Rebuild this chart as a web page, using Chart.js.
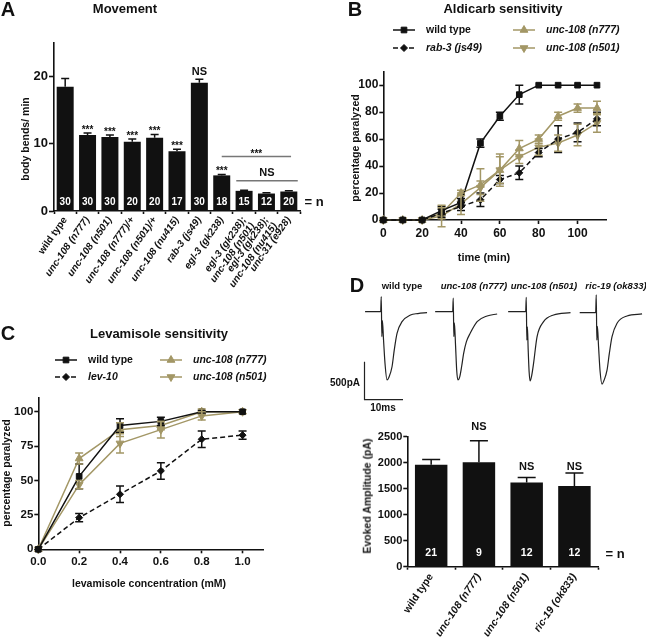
<!DOCTYPE html>
<html>
<head>
<meta charset="utf-8">
<script src="https://cdn.jsdelivr.net/npm/chart.js@4.4.0/dist/chart.umd.min.js"></script>
<style>
  body { margin: 0; width: 646px; height: 639px; position: relative; overflow: hidden; background: #fff;
         font-family: "Liberation Sans", Arial, sans-serif; color: #111; }
  canvas { position: absolute; }
  .c { position: absolute; white-space: nowrap; font-weight: bold; transform: translate(-50%, -50%); line-height: 1; }
  .r { transform: translate(-50%, -50%) rotate(-90deg); }
  .i { font-style: italic; }
</style>
</head>
<body>
<canvas id="cA" width="330" height="290" style="left:0;top:0"></canvas>
<canvas id="cB" width="316" height="290" style="left:330px;top:0"></canvas>
<canvas id="cC" width="330" height="349" style="left:0;top:290px"></canvas>
<canvas id="cD" width="316" height="224" style="left:330px;top:415px"></canvas>
<canvas id="t1" width="77" height="117" style="left:361.8px;top:289px"></canvas>
<canvas id="t2" width="77" height="117" style="left:433.8px;top:289px"></canvas>
<canvas id="t3" width="77" height="117" style="left:506.8px;top:289px"></canvas>
<canvas id="t4" width="77" height="117" style="left:576.8px;top:290px"></canvas>

<div class="c" style="left:8px;top:9px;font-size:20px">A</div>
<div class="c" style="left:125px;top:8px;font-size:13px">Movement</div>
<div class="c r" style="left:25px;top:139px;font-size:10.5px">body bends/ min</div>
<div class="c" style="left:314px;top:201px;font-size:13px">= n</div>

<div class="c" style="left:355px;top:9px;font-size:20px">B</div>
<div class="c" style="left:503px;top:8px;font-size:13px">Aldicarb sensitivity</div>
<div class="c r" style="left:355px;top:148px;font-size:10.5px">percentage paralyzed</div>
<div class="c" style="left:484px;top:257px;font-size:11px">time (min)</div>

<div class="c" style="left:8px;top:333px;font-size:20px">C</div>
<div class="c" style="left:159px;top:333px;font-size:13px">Levamisole sensitivity</div>
<div class="c r" style="left:6px;top:473px;font-size:10.5px">percentage paralyzed</div>
<div class="c" style="left:149px;top:583px;font-size:10.5px">levamisole concentration (mM)</div>

<div class="c" style="left:357px;top:285px;font-size:20px">D</div>
<div class="c" style="left:402px;top:286px;font-size:9.5px">wild type</div>
<div class="c i" style="left:474px;top:286px;font-size:9.5px">unc-108 (n777)</div>
<div class="c i" style="left:544px;top:286px;font-size:9.5px">unc-108 (n501)</div>
<div class="c i" style="left:616px;top:286px;font-size:9.5px">ric-19 (ok833)</div>
<div class="c" style="left:345px;top:383px;font-size:10px">500pA</div>
<div class="c" style="left:383px;top:408px;font-size:10px">10ms</div>
<div class="c r" style="left:367px;top:496px;font-size:10.5px">Evoked Amplitude (pA)</div>
<div class="c" style="left:615px;top:553px;font-size:13px">= n</div>

<script>
// ---- A: movement (body bends / min) ----
const moveLabels = ['wild type', 'unc-108 (n777)', 'unc-108 (n501)', 'unc-108 (n777)/+', 'unc-108 (n501)/+',
  'unc-108 (nu415)', 'rab-3 (js49)', 'egl-3 (gk238)', ['egl-3 (gk238);', 'unc-108 (n501)'],
  ['egl-3 (gk238);', 'unc-108 (nu415)'], 'unc-31 (e928)'];
const moveMeans = [18.5, 11.3, 11.0, 10.3, 10.9, 8.9, 19.1, 5.3, 3.0, 2.6, 2.9];
const moveSem = [1.2, 0.3, 0.3, 0.4, 0.5, 0.3, 0.5, 0.15, 0.1, 0.1, 0.1];
const moveN = [30, 30, 30, 20, 20, 17, 30, 18, 15, 12, 20];
const moveSig = ['', '***', '***', '***', '***', '***', 'NS', '***', '', '', ''];

// ---- B: aldicarb time course (% paralyzed) ----
const aldTime = [0, 10, 20, 30, 40, 50, 60, 70, 80, 90, 100, 110];
const aldWt = [0, 0, 0, 7, 13, 57, 77, 93, 100, 100, 100, 100];
const aldWtErr = [0, 0, 0, 3, 3, 3, 3, 7, 0, 0, 0, 0];
const aldRab3 = [0, 0, 0, 5, 10, 15, 30, 35, 50, 60, 65, 75];
const aldRab3Err = [0, 0, 0, 3, 3, 5, 3, 5, 3, 10, 7, 5];
const ald777 = [0, 0, 0, 5, 20, 26, 37, 53, 60, 77, 83, 83];
const ald777Err = [0, 0, 0, 4, 2, 12, 10, 6, 3, 3, 3, 5];
const ald501 = [0, 0, 0, 3, 12, 24, 37, 47, 54, 57, 63, 72];
const ald501Err = [0, 0, 0, 8, 8, 5, 12, 5, 6, 6, 8, 7];

// ---- C: levamisole dose response (% paralyzed) ----
const levConc = [0, 0.2, 0.4, 0.6, 0.8, 1.0];
const levWt = [0, 53, 90, 93, 100, 100];
const levWtErr = [0, 9, 5, 3, 1, 0];
const levLev10 = [0, 23, 40, 57, 80, 83];
const levLev10Err = [0, 3, 6, 6, 6, 3];
const lev777 = [0, 66, 87, 90, 100, 100];
const lev777Err = [0, 4, 5, 3, 2, 0];
const lev501 = [0, 47, 77, 87, 97, 100];
const lev501Err = [0, 3, 7, 6, 3, 0];

// ---- D: evoked currents ----
const ampLabels = ['wild type', 'unc-108 (n777)', 'unc-108 (n501)', 'ric-19 (ok833)'];
const ampMeans = [1960, 2010, 1620, 1550];
const ampSem = [100, 410, 95, 250];
const ampN = [21, 9, 12, 12];
const ampSig = ['', 'NS', 'NS', 'NS'];
const ampSigAt = [null, 2680, 1910, 1910];

// sample traces: time from stimulus (ms), current from baseline (pA)
const wtT = [-4.2, -0.15, 0, 0.15, 0.3, 0.6, 1.0, 1.5, 2.0, 2.8, 3.4, 4.1, 5.4, 7.6, 9.5, 11.9];
const wtI = [0, 0, 200, -330, -120, -380, -700, -905, -870, -730, -500, -287, -133, -44, -25, -13];
const n777T = [-4.7, -0.15, 0, 0.15, 0.3, 0.6, 0.9, 1.2, 1.7, 2.2, 2.7, 3.4, 4.4, 6.2, 8.8, 11.4];
const n777I = [0, 0, 180, -330, -150, -450, -780, -905, -860, -720, -553, -400, -287, -133, -57, -31];
const n501T = [-4.7, -0.15, 0, 0.15, 0.3, 0.5, 0.75, 1.0, 1.4, 1.9, 2.8, 4.5, 7.1, 11.5];
const n501I = [0, 0, 190, -376, -200, -500, -800, -918, -850, -686, -333, -133, -44, -13];
const ric19T = [-4.3, -0.15, 0, 0.15, 0.3, 0.6, 1.0, 1.5, 2.0, 2.8, 3.4, 4.1, 5.4, 8.0, 11.9];
const ric19I = [0, 0, 236, -363, -180, -450, -780, -948, -900, -762, -540, -319, -140, -44, -17];
const scaleBarMs = 10;
const scaleBarPa = 500;
const scaleBarCorner = [-4.35, -1165];

const FONT = '"Liberation Sans", Arial, sans-serif';
const INK = '#111';
const TAN = '#a39766';

Chart.defaults.font.family = FONT;
Chart.defaults.color = INK;
Chart.defaults.animation = false;
Chart.defaults.responsive = false;
Chart.defaults.events = [];
Chart.defaults.plugins.legend.display = false;
Chart.defaults.plugins.tooltip.enabled = false;

// pin scale box sizes so the plot areas line up with the figure
function fixSize(prop, v) {
  return s => {
    s[prop] = v;
    s.paddingLeft = s.paddingRight = s.paddingTop = s.paddingBottom = 0;
  };
}

function axisStyle(tickLen) {
  return {
    border: { display: true, color: INK, width: 1.6 },
    grid: { display: true, drawOnChartArea: false, drawTicks: true, tickLength: tickLen,
            tickColor: INK, tickWidth: 1.6, color: INK }
  };
}

function labelFont(size) {
  return c => ({ family: FONT, size: size, weight: 'bold', style: c.index === 0 ? 'normal' : 'italic', lineHeight: 1.05 });
}

const plain = v => String(v);

const errorBars = {
  id: 'errorBars',
  afterDatasetsDraw(chart) {
    const ctx = chart.ctx, y = chart.scales.y;
    chart.data.datasets.forEach((ds, i) => {
      if (!ds.errors) return;
      const meta = chart.getDatasetMeta(i);
      ctx.save();
      ctx.strokeStyle = ds.errColor || ds.borderColor || INK;
      ctx.lineWidth = 1.5;
      meta.data.forEach((el, j) => {
        const e = ds.errors[j];
        if (!e) return;
        const v = typeof ds.data[j] === 'object' ? ds.data[j].y : ds.data[j];
        const top = y.getPixelForValue(v + e);
        const bot = ds.upOnly ? el.y : y.getPixelForValue(v - e);
        const hw = ds.capHalf || 4;
        ctx.beginPath();
        ctx.moveTo(el.x, top); ctx.lineTo(el.x, bot);
        ctx.moveTo(el.x - hw, top); ctx.lineTo(el.x + hw, top);
        if (!ds.upOnly) { ctx.moveTo(el.x - hw, bot); ctx.lineTo(el.x + hw, bot); }
        ctx.stroke();
      });
      ctx.restore();
    });
  }
};

const barNotes = {
  id: 'barNotes',
  afterDatasetsDraw(chart, args, o) {
    const ctx = chart.ctx, x = chart.scales.x, y = chart.scales.y;
    const ds = chart.data.datasets[0], meta = chart.getDatasetMeta(0);
    ctx.save();
    ctx.textAlign = 'center';
    ctx.textBaseline = 'middle';
    ctx.fillStyle = '#fff';
    ctx.font = `bold ${o.nSize}px ${FONT}`;
    meta.data.forEach((el, j) => ctx.fillText(String(ds.nLabels[j]), el.x, y.getPixelForValue(o.nAt)));
    ctx.fillStyle = INK;
    meta.data.forEach((el, j) => {
      const s = ds.sig[j];
      if (!s) return;
      ctx.font = `bold ${s === 'NS' ? o.nsSize : o.starSize}px ${FONT}`;
      let py;
      if (ds.sigAt) {
        py = y.getPixelForValue(ds.sigAt[j]);
        ctx.textBaseline = 'middle';
      } else {
        py = y.getPixelForValue(ds.data[j] + ds.errors[j]) - (s === 'NS' ? o.nsGap : o.starGap);
        ctx.textBaseline = 'alphabetic';
      }
      ctx.fillText(s, el.x, py);
    });
    (o.brackets || []).forEach(b => {
      const x0 = x.getPixelForValue(b.from), x1 = x.getPixelForValue(b.to), yy = y.getPixelForValue(b.at);
      ctx.strokeStyle = '#777';
      ctx.lineWidth = 1.5;
      ctx.beginPath(); ctx.moveTo(x0, yy); ctx.lineTo(x1, yy); ctx.stroke();
      ctx.font = `bold ${b.text === 'NS' ? o.nsSize : o.starSize}px ${FONT}`;
      ctx.textBaseline = 'alphabetic';
      ctx.fillText(b.text, (x0 + x1) / 2, yy - (b.text === 'NS' ? 5 : 0));
    });
    ctx.restore();
  }
};

const sideLegend = {
  id: 'sideLegend',
  afterDraw(chart, args, o) {
    const ctx = chart.ctx;
    o.items.forEach(it => {
      const ds = chart.data.datasets[it.ds];
      ctx.save();
      ctx.strokeStyle = ds.borderColor;
      ctx.lineWidth = ds.borderWidth;
      ctx.setLineDash(ds.borderDash || []);
      ctx.beginPath(); ctx.moveTo(it.x, it.y); ctx.lineTo(it.x + o.lineLen, it.y); ctx.stroke();
      ctx.setLineDash([]);
      ctx.fillStyle = ds.pointBackgroundColor;
      ctx.strokeStyle = ds.pointBorderColor;
      ctx.lineWidth = 1;
      Chart.helpers.drawPoint(ctx, { pointStyle: ds.pointStyle, rotation: ds.pointRotation || 0,
        radius: ds.pointRadius, borderWidth: 1 }, it.x + o.lineLen / 2, it.y);
      ctx.fillStyle = INK;
      ctx.textAlign = 'left';
      ctx.textBaseline = 'middle';
      ctx.font = `${ds.italic ? 'italic ' : ''}bold ${o.size}px ${FONT}`;
      ctx.fillText(ds.label, it.x + o.lineLen + o.gap, it.y);
      ctx.restore();
    });
  }
};

function series(label, xs, ys, errs, color, style, extra) {
  return Object.assign({
    label: label,
    data: xs.map((v, i) => ({ x: v, y: ys[i] })),
    errors: errs,
    borderColor: color, backgroundColor: color,
    pointBackgroundColor: color, pointBorderColor: color,
    borderWidth: 1.5, pointStyle: style, pointRadius: 4, pointBorderWidth: 1,
    tension: 0, clip: false, italic: true
  }, extra);
}

// ---- A ----
new Chart(document.getElementById('cA'), {
  type: 'bar',
  data: {
    labels: moveLabels,
    datasets: [{
      data: moveMeans, errors: moveSem, nLabels: moveN, sig: moveSig,
      backgroundColor: INK, borderColor: INK, errColor: INK, upOnly: true, capHalf: 4,
      barPercentage: 0.76, categoryPercentage: 1
    }]
  },
  options: {
    layout: { autoPadding: false, padding: { left: 0, top: 43, right: 30, bottom: 0 } },
    plugins: {
      barNotes: {
        nSize: 10, nAt: 1.3, starSize: 10, nsSize: 11, starGap: 0, nsGap: 4,
        brackets: [
          { from: 7, to: 10.1, at: 8.1, text: '***' },
          { from: 7.65, to: 10.4, at: 4.5, text: 'NS' }
        ]
      }
    },
    scales: {
      x: Object.assign(axisStyle(3), {
        ticks: { autoSkip: false, minRotation: 55, maxRotation: 55, padding: 1, font: labelFont(10) },
        afterFit: fixSize('height', 79)
      }),
      y: Object.assign(axisStyle(5), {
        min: 0, max: 25,
        ticks: { stepSize: 10, includeBounds: false, padding: 1, font: { size: 13, weight: 'bold' }, callback: plain },
        afterFit: fixSize('width', 54)
      })
    }
  },
  plugins: [errorBars, barNotes]
});

// ---- B ----
new Chart(document.getElementById('cB'), {
  type: 'line',
  data: {
    datasets: [
      series('wild type', aldTime, aldWt, aldWtErr, INK, 'rect', { italic: false }),
      series('rab-3 (js49)', aldTime, aldRab3, aldRab3Err, INK, 'rectRot', { borderDash: [5, 3], pointRadius: 3.5 }),
      series('unc-108 (n777)', aldTime, ald777, ald777Err, TAN, 'triangle', { pointRadius: 4.5 }),
      series('unc-108 (n501)', aldTime, ald501, ald501Err, TAN, 'triangle', { pointRadius: 4.5, pointRotation: 180 })
    ]
  },
  options: {
    layout: { autoPadding: false, padding: { left: 0, top: 71.7, right: 39.3, bottom: 0 } },
    plugins: {
      sideLegend: {
        lineLen: 22, gap: 11, size: 10.5,
        items: [{ ds: 0, x: 63, y: 30 }, { ds: 1, x: 63, y: 48 }, { ds: 2, x: 183, y: 30 }, { ds: 3, x: 183, y: 48 }]
      }
    },
    scales: {
      x: Object.assign(axisStyle(4), {
        type: 'linear', min: 0, max: 115,
        ticks: { stepSize: 20, includeBounds: false, padding: 2, font: { size: 12, weight: 'bold' }, callback: plain },
        afterFit: fixSize('height', 70)
      }),
      y: Object.assign(axisStyle(4), {
        min: 0, max: 110,
        ticks: { stepSize: 20, includeBounds: false, padding: 1, font: { size: 12, weight: 'bold' }, callback: plain },
        afterFit: fixSize('width', 53.3)
      })
    }
  },
  plugins: [errorBars, sideLegend]
});

// ---- C ----
new Chart(document.getElementById('cC'), {
  type: 'line',
  data: {
    datasets: [
      series('wild type', levConc, levWt, levWtErr, INK, 'rect', { italic: false }),
      series('lev-10', levConc, levLev10, levLev10Err, INK, 'rectRot', { borderDash: [5, 3], pointRadius: 3.5 }),
      series('unc-108 (n777)', levConc, lev777, lev777Err, TAN, 'triangle', { pointRadius: 4.5 }),
      series('unc-108 (n501)', levConc, lev501, lev501Err, TAN, 'triangle', { pointRadius: 4.5, pointRotation: 180 })
    ]
  },
  options: {
    layout: { autoPadding: false, padding: { left: 0, top: 108, right: 67, bottom: 0 } },
    plugins: {
      sideLegend: {
        lineLen: 22, gap: 11, size: 10.5,
        items: [{ ds: 0, x: 55, y: 70 }, { ds: 1, x: 55, y: 87 }, { ds: 2, x: 160, y: 70 }, { ds: 3, x: 160, y: 87 }]
      }
    },
    scales: {
      x: Object.assign(axisStyle(4), {
        type: 'linear', min: 0, max: 1.1,
        ticks: { stepSize: 0.2, includeBounds: false, padding: 2, font: { size: 11.5, weight: 'bold' },
                 callback: v => v.toFixed(1) },
        afterFit: fixSize('height', 89.7)
      }),
      y: Object.assign(axisStyle(4), {
        min: 0, max: 110,
        ticks: { stepSize: 25, includeBounds: false, padding: 1, font: { size: 11.5, weight: 'bold' }, callback: plain },
        afterFit: fixSize('width', 38.3)
      })
    }
  },
  plugins: [errorBars, sideLegend]
});

// ---- D traces ----
function traceChart(id, t, amp, extra) {
  new Chart(document.getElementById(id), {
    type: 'line',
    data: {
      datasets: [{
        data: t.map((v, i) => ({ x: v, y: amp[i] })),
        borderColor: '#222', borderWidth: 1.2, pointRadius: 0,
        cubicInterpolationMode: 'monotone', clip: false
      }].concat(extra || [])
    },
    options: {
      layout: { autoPadding: false, padding: 0 },
      scales: {
        x: { type: 'linear', min: -5, max: 15, display: false },
        y: { min: -1250, max: 300, display: false }
      }
    }
  });
}

const scaleBar = {
  data: [
    { x: scaleBarCorner[0], y: scaleBarCorner[1] + scaleBarPa },
    { x: scaleBarCorner[0], y: scaleBarCorner[1] },
    { x: scaleBarCorner[0] + scaleBarMs, y: scaleBarCorner[1] }
  ],
  borderColor: '#222', borderWidth: 1.2, pointRadius: 0, tension: 0, clip: false
};

traceChart('t1', wtT, wtI, [scaleBar]);
traceChart('t2', n777T, n777I);
traceChart('t3', n501T, n501I);
traceChart('t4', ric19T, ric19I);

// ---- D bars ----
new Chart(document.getElementById('cD'), {
  type: 'bar',
  data: {
    labels: ampLabels,
    datasets: [{
      data: ampMeans, errors: ampSem, nLabels: ampN, sig: ampSig, sigAt: ampSigAt,
      backgroundColor: INK, borderColor: INK, errColor: INK, upOnly: true, capHalf: 9,
      barPercentage: 0.68, categoryPercentage: 1
    }]
  },
  options: {
    layout: { autoPadding: false, padding: { left: 0, top: 21.7, right: 47.7, bottom: 0 } },
    plugins: { barNotes: { nSize: 10.5, nAt: 260, starSize: 10, nsSize: 11 } },
    scales: {
      x: Object.assign(axisStyle(3), {
        ticks: { autoSkip: false, minRotation: 56, maxRotation: 56, padding: 2, font: labelFont(10.5) },
        afterFit: fixSize('height', 72.3)
      }),
      y: Object.assign(axisStyle(4), {
        min: 0, max: 2500,
        ticks: { stepSize: 500, includeBounds: false, padding: 1, font: { size: 11, weight: 'bold' }, callback: plain },
        afterFit: fixSize('width', 77.3)
      })
    }
  },
  plugins: [errorBars, barNotes]
});
</script>
</body>
</html>
